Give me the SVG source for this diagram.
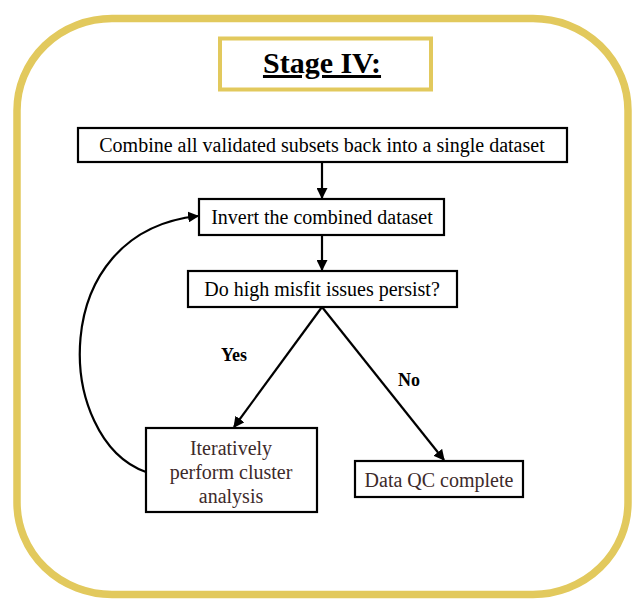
<svg xmlns="http://www.w3.org/2000/svg" width="644" height="615" viewBox="0 0 644 615">
<style>
.box{fill:#fff;stroke:#000;stroke-width:2.2}
.t{font-family:"Liberation Serif","Times New Roman",serif;font-size:20px;text-anchor:middle;fill:#000}
.br{fill:#3d2a2a}
.lbl{font-family:"Liberation Serif","Times New Roman",serif;font-size:18px;font-weight:bold;text-anchor:middle;fill:#000}
.c{fill:none;stroke:#000;stroke-width:2.2}
</style>
<defs>
<marker id="ah" viewBox="0 0 10 10" refX="9" refY="5" markerWidth="5" markerHeight="5" orient="auto" markerUnits="strokeWidth">
<path d="M0,0 L10,5 L0,10 z" fill="#000"/>
</marker>
</defs>
<rect width="644" height="615" fill="#fff"/>
<g id="frame">
<rect x="17" y="18.5" width="611" height="576" rx="95" ry="92" fill="#fff" stroke="#E2C95D" stroke-width="7.5"/>
</g>
<g id="title">
<rect x="220" y="38.5" width="211" height="51" fill="#fff" stroke="#E2C95D" stroke-width="4"/>
<text x="322" y="73" font-family="Liberation Serif,'Times New Roman',serif" font-size="30" font-weight="bold" text-anchor="middle" text-decoration="underline">Stage IV:</text>
</g>
<g id="connectors">
<line class="c" x1="322" y1="162" x2="322" y2="198" marker-end="url(#ah)"/>
<line class="c" x1="322" y1="235" x2="322" y2="270" marker-end="url(#ah)"/>
<line class="c" x1="322" y1="307" x2="234" y2="427" marker-end="url(#ah)"/>
<line class="c" x1="322" y1="307" x2="444" y2="460" marker-end="url(#ah)"/>
<path class="c" d="M146,472 C55,440 45,232 198,216" marker-end="url(#ah)"/>
<text class="lbl" x="234" y="361">Yes</text>
<text class="lbl" x="409" y="386">No</text>
</g>
<g id="n1">
<rect class="box" x="78" y="128" width="489" height="34"/>
<text class="t" x="322" y="152">Combine all validated subsets back into a single dataset</text>
</g>
<g id="n2">
<rect class="box" x="199" y="199" width="245" height="36"/>
<text class="t" x="322" y="224">Invert the combined dataset</text>
</g>
<g id="n3">
<rect class="box" x="188" y="271" width="269" height="36"/>
<text class="t" x="322" y="296">Do high misfit issues persist?</text>
</g>
<g id="n4">
<rect class="box" x="146" y="428" width="171" height="84"/>
<text class="t br" x="231" y="455">Iteratively</text>
<text class="t br" x="231" y="479">perform cluster</text>
<text class="t br" x="231" y="503">analysis</text>
</g>
<g id="n5">
<rect class="box" x="355" y="461" width="168" height="36"/>
<text class="t br" x="439" y="487">Data QC complete</text>
</g>
</svg>
